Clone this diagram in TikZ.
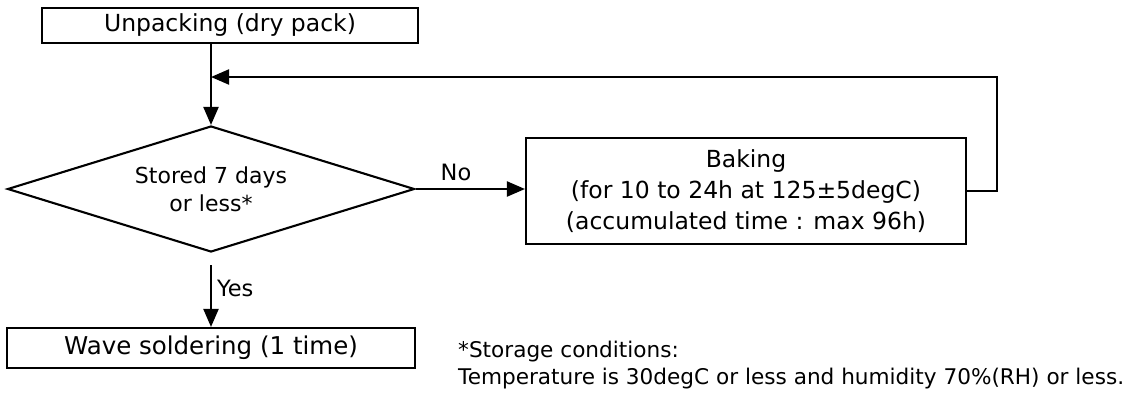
\documentclass[tikz,border=0pt]{standalone}
\usepackage{fontspec}
\setmainfont{DejaVu Sans}
\usetikzlibrary{shapes.geometric,arrows.meta}
\tikzset{
  boxnode/.style={draw, line width=2.1pt, inner sep=0pt, rectangle},
  decision/.style={draw, line width=2.1pt, diamond, aspect=3.2, inner sep=0pt, align=center,
    minimum width=407pt, minimum height=126pt},
  arr/.style={line width=2.1pt, -{Triangle[length=18pt,width=15pt]}},
  lbl/.style={inner sep=0pt, font=\fontsize{22.5}{26}\selectfont},
  notetxt/.style={inner sep=0pt, anchor=base west, font=\fontsize{21.6}{26}\selectfont}
}
\begin{document}
\begin{tikzpicture}[x=1pt,y=-1pt]
\useasboundingbox (0,0) rectangle (1139,394);
% nodes
\node[boxnode, minimum width=376pt, minimum height=35pt,
      font=\fontsize{23.5}{28}\selectfont] (unpack) at (230,25.5) {Unpacking (dry pack)};
\node[decision, font=\fontsize{22}{28}\selectfont] (dec) at (211,189) {Stored 7 days\\or less*};
\node[boxnode, minimum width=440pt, minimum height=106pt, align=center,
      font=\fontsize{23.5}{31}\selectfont] (bake) at (746,191)
      {Baking\\(for 10 to 24h at 125±5degC)\\(accumulated time : max 96h)};
\node[boxnode, minimum width=408pt, minimum height=40pt,
      font=\fontsize{24.5}{29}\selectfont] (wave) at (211,348) {Wave soldering (1 time)};
\node[notetxt] (note1) at (458,357) {*Storage conditions:};
\node[notetxt] (note2) at (458,384) {Temperature is 30degC or less and humidity 70\%(RH) or less.};
% coordinates
\coordinate (fb) at (997,77);
\coordinate (join) at (dec.north |- fb);
% connectors
\draw[arr] (dec.north |- unpack.south) -- (dec.north);
\draw[arr] (bake.east) -| (fb) -- (join);
\draw[arr] (dec.east) -- node[lbl, pos=0.37, above=7pt] (no) {No} (dec.east -| bake.west);
\draw[arr] ([yshift=-12pt]dec.south) -- node[lbl, pos=0.38, right=5pt] (yes) {Yes} (wave.north -| dec.south);
\end{tikzpicture}
\end{document}
